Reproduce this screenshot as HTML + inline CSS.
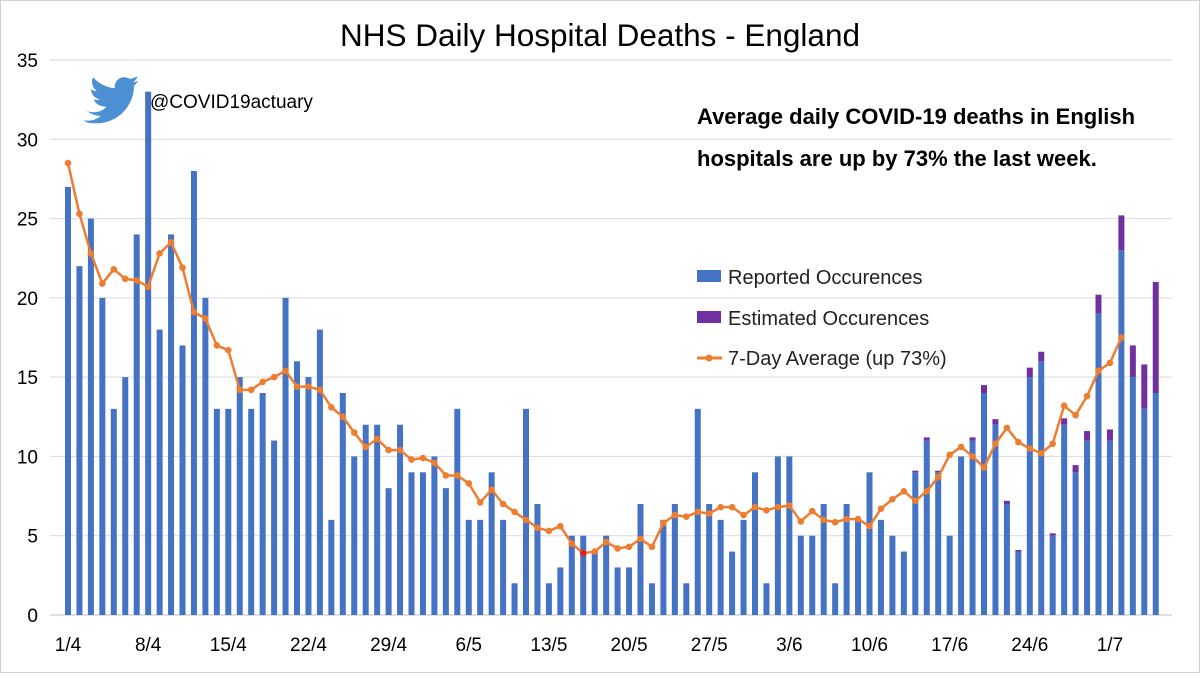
<!DOCTYPE html>
<html><head><meta charset="utf-8">
<style>
html,body{margin:0;padding:0;background:#fff;}
body{width:1200px;height:673px;overflow:hidden;font-family:"Liberation Sans",sans-serif;}
svg text{font-family:"Liberation Sans",sans-serif;}
</style></head>
<body>
<svg id="chart" width="1200" height="673" viewBox="0 0 1200 673" xmlns="http://www.w3.org/2000/svg">
<rect x="0.5" y="0.5" width="1199" height="672" fill="#fff" stroke="#d0d0d0"/>
<text x="600" y="46" text-anchor="middle" font-size="31.5" fill="#000">NHS Daily Hospital Deaths - England</text>
<g id="grid"></g>
<g id="yticks"></g>
<g id="xticks"></g>
<g id="bars"></g>
<g id="avg"></g>
<g>
<path d="M92 96 C100 100 110 98 114 92 C106 92 102 88 101 84 C104 85 106 85 107 84 C102 83 98 79 98 73 C100 75 102 75 104 75 C99 71 98 65 100 60 C106 67 114 71 123 72 C122 62 131 57 139 62 C142 61 145 60 147 59 C146 62 144 64 142 66 C144 65 146 65 148 64 C146 66 145 68 143 69 C144 88 128 112 100 110 C96 110 93 109 90 107 C98 108 104 106 108 102 C100 102 96 98 92 96 Z" fill="#4a90d2" transform="translate(-2,22) scale(0.95,0.92)"/>
</g>
<text x="150" y="108" font-size="19" fill="#000">@COVID19actuary</text>
<text x="697" y="124" font-size="22" font-weight="bold" fill="#000">Average daily COVID-19 deaths in English</text>
<text x="697" y="166" font-size="22" font-weight="bold" fill="#000">hospitals are up by 73% the last week.</text>
<g>
<g><rect x="697" y="270" width="24" height="12" fill="#4472C4"/><text x="728" y="284" font-size="20" fill="#222">Reported Occurences</text></g>
<g><rect x="697" y="311" width="24" height="12" fill="#7030A0"/><text x="728" y="325" font-size="20" fill="#222">Estimated Occurences</text></g>
<g><line x1="697" y1="358" x2="722" y2="358" stroke="#ED7D31" stroke-width="3"/><circle cx="709" cy="358" r="3.5" fill="#ED7D31"/><text x="728" y="365" font-size="20" fill="#222">7-Day Average (up 73%)</text></g>
</g>
</svg>
<script>
const reported = [27,22,25,20,13,15,24,33,18,24,17,28,20,13,13,15,13,14,11,20,16,15,18,6,14,10,12,12,8,12,9,9,
10,8,13,6,6,9,6,2,13,7,2,3,5,5,4,5,3,3,7,2,6,7,2,13,7,6,4,6,9,2,10,10,
5,5,7,2,7,6,9,6,5,4,9,11,9,5,10,11,14,12,7,4,15,16,5,12,9,11,19,11,23,15,13,14];
const estimated = [0,0,0,0,0,0,0,0,0,0,0,0,0,0,0,0,0,0,0,0,0,0,0,0,0,0,0,0,0,0,0,0,
0,0,0,0,0,0,0,0,0,0,0,0,0,0,0,0,0,0,0,0,0,0,0,0,0,0,0,0,0,0,0,0,
0,0,0,0,0,0,0,0,0,0,0.1,0.2,0.1,0,0,0.2,0.5,0.35,0.2,0.1,0.6,0.6,0.15,0.4,0.45,0.6,1.2,0.7,2.2,2,2.8,7];
const average = [28.5,25.3,22.8,20.9,21.8,21.2,21.1,20.7,22.8,23.5,21.9,19.1,18.7,17.0,16.7,14.2,14.2,14.7,15.0,15.4,14.4,14.4,14.2,13.1,12.5,11.5,10.6,11.1,10.4,10.4,9.8,
9.9,9.6,8.8,8.8,8.3,7.1,7.9,7.0,6.5,6.0,5.5,5.3,5.6,4.5,3.9,4.0,4.6,4.2,4.3,4.8,4.3,5.8,6.3,6.2,6.5,6.4,6.8,6.8,6.3,6.8,6.6,6.8,6.9,
5.9,6.55,6.0,5.85,6.05,6.05,5.6,6.7,7.3,7.8,7.2,7.8,8.7,10.1,10.6,10.0,9.3,10.8,11.8,10.9,10.5,10.2,10.8,13.2,12.6,13.8,15.4,15.9,17.5];
const yTicks = [0,5,10,15,20,25,30,35];
const xTickLabels = ["1/4","8/4","15/4","22/4","29/4","6/5","13/5","20/5","27/5","3/6","10/6","17/6","24/6","1/7"];
const xTickIndex = [0,7,14,21,28,35,42,49,56,63,70,77,84,91];
const redPointIndex = 45;

const NS = "http://www.w3.org/2000/svg";
function X(i){ return 68 + i*11.45; }
function Y(v){ return 615 - v*(555/35); }
function mk(tag, attrs, parent){ const e=document.createElementNS(NS,tag); for(const k in attrs) e.setAttribute(k,attrs[k]); parent.appendChild(e); return e; }

const grid=document.getElementById('grid'), yt=document.getElementById('yticks'), xt=document.getElementById('xticks');
yTicks.forEach(t=>{
  const l=mk('line',{x1:50,x2:1172,y1:Y(t),y2:Y(t),stroke:t===0?'#bfbfbf':'#d9d9d9','stroke-width':1},grid);
  
  
  const tx=mk('text',{x:38,y:Y(t)+7,'text-anchor':'end','font-size':19,fill:'#000'},yt);
  tx.textContent=t;
  
  
});
xTickLabels.forEach((lab,k)=>{
  const tx=mk('text',{x:X(xTickIndex[k]),y:651,'text-anchor':'middle','font-size':19,fill:'#000'},xt);
  tx.textContent=lab;
  
  
});
const bars=document.getElementById('bars');
reported.forEach((v,i)=>{
  const b=mk('rect',{x:X(i)-3,y:Y(v),width:6,height:Y(0)-Y(v),fill:'#4472C4'},bars);
  
  
  const e=estimated[i];
  if(e>0){
    const p=mk('rect',{x:X(i)-3,y:Y(v+e),width:6,height:Y(v)-Y(v+e),fill:'#7030A0'},bars);
    
    
  }
});
const avg=document.getElementById('avg');
const pl=mk('polyline',{points:average.map((v,i)=>X(i)+','+Y(v)).join(' '),fill:'none',stroke:'#ED7D31','stroke-width':2.5,'stroke-linejoin':'round'},avg);


average.forEach((v,i)=>{
  const c=mk('circle',{cx:X(i),cy:Y(v),r:3.3,fill:i===redPointIndex?'#e02020':'#ED7D31'},avg);
  
  
});
</script>
</body></html>
